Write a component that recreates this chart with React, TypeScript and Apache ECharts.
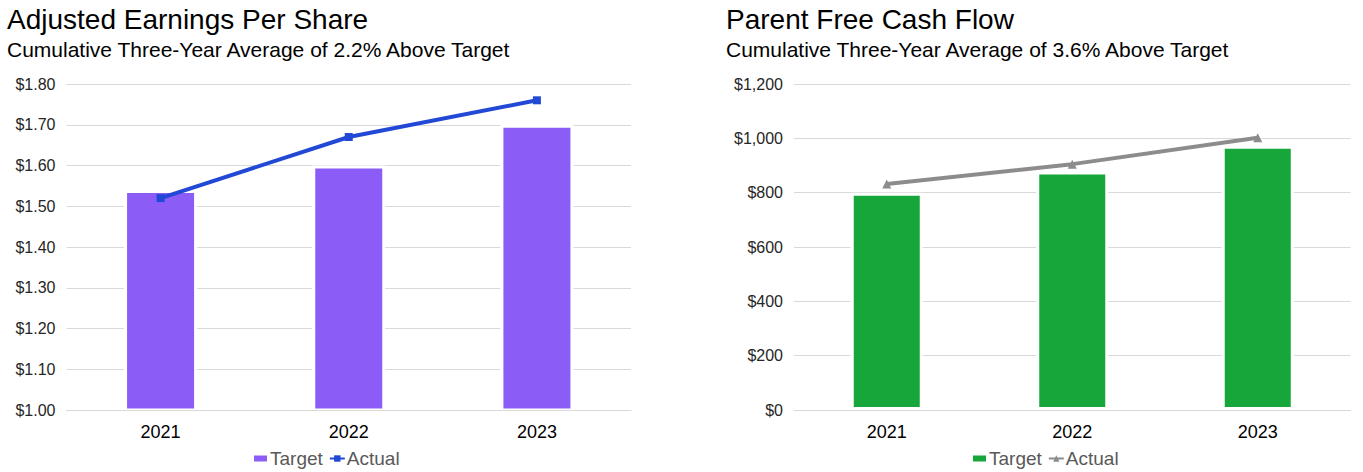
import React, { useEffect, useRef } from "react";
import * as echarts from "echarts";

const years = ["2021", "2022", "2023"];
const epsTarget = [1.54, 1.6, 1.7];
const epsActual = [1.52, 1.67, 1.76];
const fcfTarget = [800, 878, 973];
const fcfActual = [832, 905, 1002];

const FONT = "'Liberation Sans', Arial, Helvetica, sans-serif";
const PURPLE = "#8B5CF6";
const BLUE = "#2249D6";
const GREEN = "#17A63A";
const GRAY = "#8C8C8C";
const GRID = "#D9D9D9";

export default function App() {
  const ref = useRef<HTMLDivElement>(null);
  useEffect(() => {
    if (!ref.current) return;
    const chart = echarts.init(ref.current, undefined, { renderer: "svg" });
    const titleStyle = { fontFamily: FONT, fontSize: 28, fontWeight: "normal" as const, color: "#000" };
    const subStyle = { fontFamily: FONT, fontSize: 21, fontWeight: "normal" as const, color: "#000" };
    const yLabel = { fontFamily: FONT, fontSize: 16, color: "#262626", margin: 11 };
    const xLabel = { fontFamily: FONT, fontSize: 18, color: "#000", margin: 13 };
    const legendText = { fontFamily: FONT, fontSize: 19, color: "#595959", padding: [0, 0, 0, -3] };
    chart.setOption({
      animation: false,
      backgroundColor: "#fff",
      title: [
        { text: "Adjusted Earnings Per Share", left: 7, top: 5, padding: 0, textStyle: titleStyle },
        { text: "Cumulative Three-Year Average of 2.2% Above Target", left: 7, top: 39, padding: 0, textStyle: subStyle },
        { text: "Parent Free Cash Flow", left: 726, top: 5, padding: 0, textStyle: titleStyle },
        { text: "Cumulative Three-Year Average of 3.6% Above Target", left: 726, top: 39, padding: 0, textStyle: subStyle },
      ],
      legend: [
        {
          left: 252, top: 449, padding: 0, itemGap: 6, itemWidth: 15, itemHeight: 8,
          textStyle: legendText,
          data: [{ name: "Target", icon: "rect" }, { name: "Actual" }],
        },
        {
          left: 971, top: 449, padding: 0, itemGap: 6, itemWidth: 15, itemHeight: 8,
          textStyle: legendText,
          data: [{ name: "Target2", icon: "rect" }, { name: "Actual2" }],
          formatter: (n: string) => n.replace("2", ""),
        },
      ],
      grid: [
        { left: 66.5, top: 84, width: 564.5, height: 326, containLabel: false },
        { left: 794, top: 84, width: 556.5, height: 326, containLabel: false },
      ],
      xAxis: [
        {
          gridIndex: 0, type: "category", data: years, z: 5,
          axisLine: { lineStyle: { color: GRID, width: 1 } }, axisTick: { show: false },
          axisLabel: xLabel,
        },
        {
          gridIndex: 1, type: "category", data: years, z: 5,
          axisLine: { lineStyle: { color: GRID, width: 1 } }, axisTick: { show: false },
          axisLabel: xLabel,
        },
      ],
      yAxis: [
        {
          gridIndex: 0, type: "value", min: 1.0, max: 1.8, interval: 0.1,
          axisLine: { show: false }, axisTick: { show: false },
          splitLine: { lineStyle: { color: GRID, width: 1 } },
          axisLabel: { ...yLabel, formatter: (v: number) => "$" + v.toFixed(2) },
        },
        {
          gridIndex: 1, type: "value", min: 0, max: 1200, interval: 200,
          axisLine: { show: false }, axisTick: { show: false },
          splitLine: { lineStyle: { color: GRID, width: 1 } },
          axisLabel: {
            ...yLabel,
            formatter: (v: number) => "$" + v.toLocaleString("en-US"),
          },
        },
      ],
      series: [
        {
          name: "Target", type: "bar", xAxisIndex: 0, yAxisIndex: 0, data: epsTarget,
          barWidth: 73, itemStyle: { color: PURPLE, borderColor: "#fff", borderWidth: 3 },
        },
        {
          name: "Actual", type: "line", xAxisIndex: 0, yAxisIndex: 0, data: epsActual,
          symbol: "rect", symbolSize: 8, lineStyle: { color: BLUE, width: 4 },
          itemStyle: { color: BLUE },
        },
        {
          name: "Target2", type: "bar", xAxisIndex: 1, yAxisIndex: 1, data: fcfTarget,
          barWidth: 72, itemStyle: { color: GREEN, borderColor: "#fff", borderWidth: 3 },
        },
        {
          name: "Actual2", type: "line", xAxisIndex: 1, yAxisIndex: 1, data: fcfActual,
          symbol: "triangle", symbolSize: 9, lineStyle: { color: GRAY, width: 4 },
          itemStyle: { color: GRAY },
        },
      ],
    });
    return () => chart.dispose();
  }, []);
  return (
    <div
      ref={ref}
      style={{ position: "fixed", left: 0, top: 0, width: 1363, height: 472, background: "#fff" }}
    />
  );
}
